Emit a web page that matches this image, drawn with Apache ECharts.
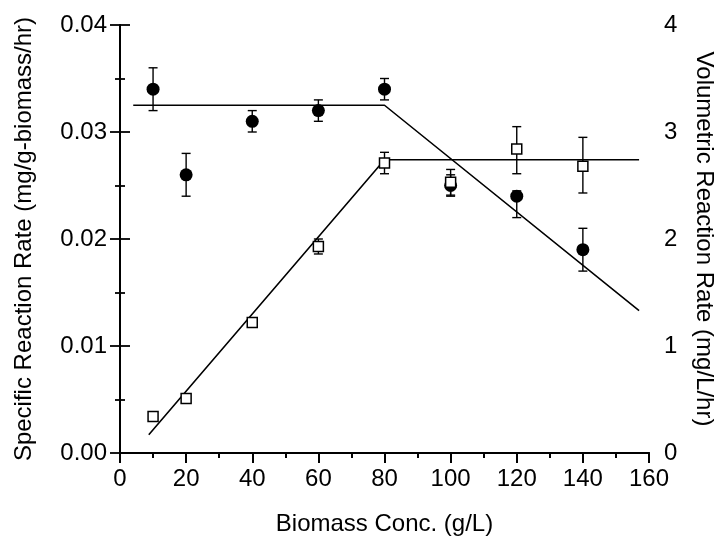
<!DOCTYPE html>
<html>
<head>
<meta charset="utf-8">
<script src="https://cdn.jsdelivr.net/npm/echarts@6/dist/echarts.min.js"></script>
<style>
  html, body { margin: 0; padding: 0; background: #fff; }
  #main { width: 724px; height: 542px; }
</style>
</head>
<body>
<div id="main"></div>
<script>
// biomass concentrations (g/L)
var biomass = [10, 20, 40, 60, 80, 100, 120, 140];

// specific reaction rate (mg/g-biomass/hr), filled circles, left axis
var specRate = [0.034, 0.026, 0.031, 0.032, 0.034, 0.025, 0.024, 0.019];
var specLow = [0.032, 0.024, 0.030, 0.031, 0.033, 0.024, 0.022, 0.017];
var specHigh = [0.036, 0.028, 0.032, 0.033, 0.035, 0.026, 0.0245, 0.021];

// volumetric reaction rate (mg/L/hr), open squares, right axis
var volRate = [0.34, 0.51, 1.22, 1.93, 2.71, 2.53, 2.84, 2.68];
var volLow = [0.31, 0.48, 1.19, 1.86, 2.61, 2.41, 2.61, 2.43];
var volHigh = [0.37, 0.54, 1.25, 2.0, 2.81, 2.65, 3.05, 2.95];

// fitted lines (break points)
var specFit = [[4, 0.0325], [80, 0.0325], [157, 0.0133]];
var volFit = [[8.7, 0.17], [80, 2.74], [157, 2.74]];

function pairs(xs, ys) {
  return xs.map(function (x, i) { return [x, ys[i]]; });
}
function bars(xs, lo, hi) {
  return xs.map(function (x, i) { return [x, lo[i], hi[i]]; });
}

function errorBar(params, api) {
  var x = api.value(0);
  var top = api.coord([x, api.value(2)]);
  var bot = api.coord([x, api.value(1)]);
  var cap = 4.5;
  var st = { stroke: '#000', lineWidth: 1.4 };
  return {
    type: 'group',
    children: [
      { type: 'line', shape: { x1: top[0], y1: top[1], x2: bot[0], y2: bot[1] }, style: st },
      { type: 'line', shape: { x1: top[0] - cap, y1: top[1], x2: top[0] + cap, y2: top[1] }, style: st },
      { type: 'line', shape: { x1: bot[0] - cap, y1: bot[1], x2: bot[0] + cap, y2: bot[1] }, style: st }
    ]
  };
}

var font = 'Liberation Sans, Arial, sans-serif';
var fs = 24;
var axisLine = { show: true, lineStyle: { color: '#000', width: 2 } };
var tick = { show: true, inside: false, length: 10, lineStyle: { color: '#000', width: 1.8 } };
var minor = { show: true, splitNumber: 2, length: 5, lineStyle: { color: '#000', width: 1.8 } };
var nameStyle = { fontFamily: font, fontSize: fs, color: '#000' };

var chart = echarts.init(document.getElementById('main'));
chart.setOption({
  animation: false,
  grid: { left: 120, right: 71, top: 25, bottom: 89 },
  xAxis: [
    {
      type: 'value', min: 0, max: 160, interval: 20, position: 'bottom',
      name: 'Biomass Conc. (g/L)', nameLocation: 'middle', nameGap: 59,
      nameTextStyle: nameStyle,
      axisLine: axisLine, axisTick: tick, minorTick: minor,
      axisLabel: { fontFamily: font, fontSize: fs, color: '#000', margin: 14 },
      splitLine: { show: false }
    },
    {
      type: 'value', min: 0, max: 160, interval: 20, position: 'top',
      axisLine: axisLine,
      axisTick: { show: true, inside: true, length: 10, lineStyle: { color: '#000', width: 1.8 } },
      minorTick: minor,
      axisLabel: { show: false },
      splitLine: { show: false }
    }
  ],
  yAxis: [
    {
      type: 'value', min: 0, max: 0.04, interval: 0.01, position: 'left',
      name: 'Specific Reaction Rate (mg/g-biomass/hr)', nameLocation: 'middle', nameGap: 84, nameRotate: 90,
      nameTextStyle: nameStyle,
      axisLine: axisLine, axisTick: tick, minorTick: minor,
      axisLabel: { fontFamily: font, fontSize: fs, color: '#000', margin: 13,
        formatter: function (v) { return v.toFixed(2); } },
      splitLine: { show: false }
    },
    {
      type: 'value', min: 0, max: 4, interval: 1, position: 'right',
      name: 'Volumetric Reaction Rate (mg/L/hr)', nameLocation: 'middle', nameGap: 43, nameRotate: -90,
      nameTextStyle: nameStyle,
      axisLine: axisLine, axisTick: tick, minorTick: minor,
      axisLabel: { fontFamily: font, fontSize: fs, color: '#000', margin: 15 },
      splitLine: { show: false }
    }
  ],
  series: [
    {
      type: 'line', yAxisIndex: 0, data: specFit, symbol: 'none',
      lineStyle: { color: '#000', width: 1.6 }, z: 2
    },
    {
      type: 'line', yAxisIndex: 1, data: volFit, symbol: 'none',
      lineStyle: { color: '#000', width: 1.6 }, z: 2
    },
    {
      type: 'custom', yAxisIndex: 0, renderItem: errorBar,
      data: bars(biomass, specLow, specHigh), z: 3
    },
    {
      type: 'custom', yAxisIndex: 1, renderItem: errorBar,
      data: bars(biomass, volLow, volHigh), z: 3
    },
    {
      type: 'scatter', yAxisIndex: 0, data: pairs(biomass, specRate),
      symbol: 'circle', symbolSize: 13,
      itemStyle: { color: '#000', opacity: 1 }, z: 4
    },
    {
      type: 'scatter', yAxisIndex: 1, data: pairs(biomass, volRate),
      symbol: 'rect', symbolSize: 10,
      itemStyle: { color: '#fff', borderColor: '#000', borderWidth: 1.5, opacity: 1 }, z: 5
    }
  ]
});
</script>
</body>
</html>
